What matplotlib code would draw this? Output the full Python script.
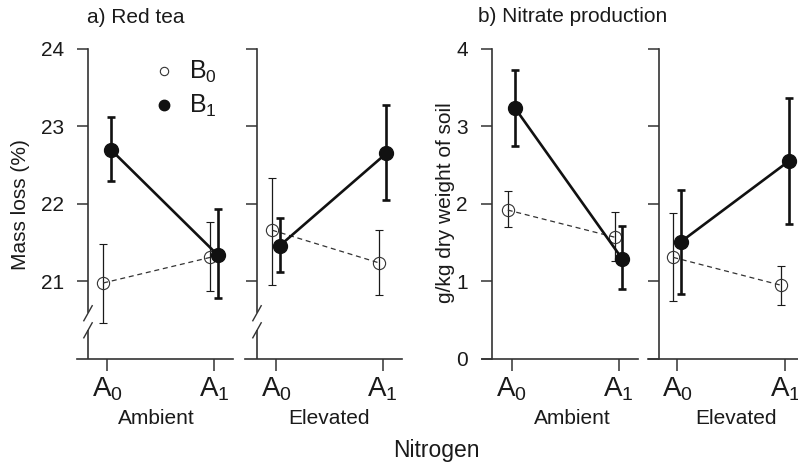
import matplotlib
matplotlib.use("Agg")
import matplotlib.pyplot as plt
from matplotlib.transforms import blended_transform_factory

plt.rcParams['font.family'] = ['Liberation Sans', 'DejaVu Sans']
plt.rcParams['mathtext.fontset'] = 'custom'
plt.rcParams['mathtext.rm'] = 'Liberation Sans'
plt.rcParams['mathtext.it'] = 'Liberation Sans:italic'
plt.rcParams['mathtext.bf'] = 'Liberation Sans:bold'

# ---------------- data ----------------
levels = ["A$_0$", "A$_1$"]
series = ["B$_0$", "B$_1$"]
co2 = ["Ambient", "Elevated"]

# a) Red tea, mass loss (%)
tea_amb_B0 = [20.98, 21.31]
tea_amb_B0_lo = [20.47, 20.88]
tea_amb_B0_hi = [21.48, 21.77]
tea_amb_B1 = [22.70, 21.34]
tea_amb_B1_lo = [22.30, 20.78]
tea_amb_B1_hi = [23.12, 21.93]
tea_ele_B0 = [21.66, 21.24]
tea_ele_B0_lo = [20.95, 20.83]
tea_ele_B0_hi = [22.33, 21.66]
tea_ele_B1 = [21.46, 22.65]
tea_ele_B1_lo = [21.12, 22.05]
tea_ele_B1_hi = [21.82, 23.27]
tea_ticks = [21, 22, 23, 24]

# b) Nitrate production, g/kg dry weight of soil
nit_amb_B0 = [1.92, 1.57]
nit_amb_B0_lo = [1.70, 1.26]
nit_amb_B0_hi = [2.17, 1.89]
nit_amb_B1 = [3.23, 1.29]
nit_amb_B1_lo = [2.74, 0.90]
nit_amb_B1_hi = [3.73, 1.71]
nit_ele_B0 = [1.31, 0.95]
nit_ele_B0_lo = [0.75, 0.69]
nit_ele_B0_hi = [1.88, 1.20]
nit_ele_B1 = [1.51, 2.55]
nit_ele_B1_lo = [0.84, 1.74]
nit_ele_B1_hi = [2.18, 3.37]
nit_ticks = [0, 1, 2, 3, 4]

W, H = 798, 463
fig = plt.figure(figsize=(W / 100, H / 100), dpi=100)

TOP, BOT = 48.7, 359.0
AXC = '#333333'
TXT = '#1a1a1a'


def make_ax(left, right, spine, a0, a1, ylim, ticks, show_labels):
    ax = fig.add_axes([left / W, 1 - BOT / H, (right - left) / W, (BOT - TOP) / H])
    step = a1 - a0
    ax.set_xlim((left - a0) / step, (right - a0) / step)
    ax.set_ylim(*ylim)
    ax.patch.set_alpha(0)
    for s in ['top', 'right']:
        ax.spines[s].set_visible(False)
    ax.spines['left'].set_position(('axes', (spine - left) / (right - left)))
    for s in ['left', 'bottom']:
        ax.spines[s].set_color(AXC)
        ax.spines[s].set_linewidth(1.2)
    ax.set_xticks([0, 1])
    ax.set_xticklabels(levels, fontsize=20, color=TXT)
    ax.set_yticks(ticks)
    if show_labels:
        ax.set_yticklabels([str(t) for t in ticks], fontsize=15, color=TXT)
    else:
        ax.set_yticklabels([])
    ax.tick_params(axis='y', direction='out', length=7.9, width=1.1, color=AXC, pad=9.5)
    ax.tick_params(axis='x', direction='out', length=8.6, width=1.1, color=AXC, pad=3)
    return ax


def draw(ax, b0, b0lo, b0hi, b1, b1lo, b1hi):
    off = 0.035
    x0 = [i - off for i in range(len(b0))]
    x1 = [i + off for i in range(len(b1))]
    ax.errorbar(x0, b0, yerr=[[m - l for m, l in zip(b0, b0lo)], [h - m for m, h in zip(b0, b0hi)]],
                fmt='o', color='#1a1a1a', mfc='none', mec='#333333', ms=8.8, mew=0.8,
                elinewidth=0.9, capsize=3.2, capthick=0.9, zorder=3, clip_on=False)
    ax.plot(x0, b0, ls='--', dashes=(4, 3), lw=0.9, color='#333333', zorder=3)
    ax.errorbar(x1, b1, yerr=[[m - l for m, l in zip(b1, b1lo)], [h - m for m, h in zip(b1, b1hi)]],
                fmt='o', color='#111111', mfc='#111111', mec='#111111', ms=10,
                elinewidth=1.9, capsize=2.8, capthick=1.9, zorder=4, clip_on=False)
    ax.plot(x1, b1, ls='-', lw=1.9, color='#111111', zorder=4)


def axis_break(ax, left, right, spine):
    fx = (spine - left) / (right - left)
    tr = blended_transform_factory(ax.transAxes, ax.transData)
    ax.spines['left'].set_bounds(20.61, 24)
    ax.plot([fx, fx], [20, 20.38], color=AXC, lw=1.2, transform=tr, clip_on=False,
            solid_capstyle='butt')
    dx = 4.2 / (right - left)
    dy = 7.5 / 77.5
    for yc in [20.59, 20.37]:
        ax.plot([fx - dx, fx + dx], [yc - dy, yc + dy], color=AXC, lw=1.0,
                transform=tr, clip_on=False)


# panel a
axA1 = make_ax(77, 233, 88, 107, 214, (20, 24), tea_ticks, True)
axA2 = make_ax(245, 402, 257, 276, 382.5, (20, 24), tea_ticks, False)
axis_break(axA1, 77, 233, 88)
axis_break(axA2, 245, 402, 257)
draw(axA1, tea_amb_B0, tea_amb_B0_lo, tea_amb_B0_hi, tea_amb_B1, tea_amb_B1_lo, tea_amb_B1_hi)
draw(axA2, tea_ele_B0, tea_ele_B0_lo, tea_ele_B0_hi, tea_ele_B1, tea_ele_B1_lo, tea_ele_B1_hi)

# panel b
axB1 = make_ax(482, 638, 492, 511.5, 618.5, (0, 4), nit_ticks, True)
axB2 = make_ax(648, 805, 659, 677, 785, (0, 4), nit_ticks, False)
draw(axB1, nit_amb_B0, nit_amb_B0_lo, nit_amb_B0_hi, nit_amb_B1, nit_amb_B1_lo, nit_amb_B1_hi)
draw(axB2, nit_ele_B0, nit_ele_B0_lo, nit_ele_B0_hi, nit_ele_B1, nit_ele_B1_lo, nit_ele_B1_hi)

# legend (manual)
fig.lines.append(plt.Line2D([164 / W], [1 - 70.7 / H], transform=fig.transFigure, marker='o',
                            ms=6, mfc='none', mec='#333333', mew=0.8, ls='none'))
fig.lines.append(plt.Line2D([164 / W], [1 - 105 / H], transform=fig.transFigure, marker='o',
                            ms=7.5, mfc='#111111', mec='#111111', ls='none'))
fig.text(189 / W, 1 - 79 / H, series[0], fontsize=18, color=TXT, ha='left', va='baseline')
fig.text(189 / W, 1 - 113 / H, series[1], fontsize=18, color=TXT, ha='left', va='baseline')

# texts
fig.text(87 / W, 1 - 22.7 / H, "a) Red tea", fontsize=15, color=TXT, ha='left', va='baseline')
fig.text(478 / W, 1 - 22.5 / H, "b) Nitrate production", fontsize=15, color=TXT, ha='left', va='baseline')
fig.text(156.7 / W, 1 - 424 / H, co2[0], fontsize=15, color=TXT, ha='center', va='baseline')
fig.text(329 / W, 1 - 424 / H, co2[1], fontsize=15, color=TXT, ha='center', va='baseline')
fig.text(572.5 / W, 1 - 424 / H, co2[0], fontsize=15, color=TXT, ha='center', va='baseline')
fig.text(735.8 / W, 1 - 424 / H, co2[1], fontsize=15, color=TXT, ha='center', va='baseline')
fig.text(436.7 / W, 1 - 456.7 / H, "Nitrogen", fontsize=16.5, color=TXT, ha='center', va='baseline')
fig.text(21 / W, 1 - 205 / H, "Mass loss (%)", fontsize=15, color=TXT, rotation=90,
         ha='center', va='center')
fig.text(445 / W, 1 - 203 / H, "g/kg dry weight of soil", fontsize=15, color=TXT, rotation=90,
         ha='center', va='center')

fig.savefig("out.png", dpi=100)
